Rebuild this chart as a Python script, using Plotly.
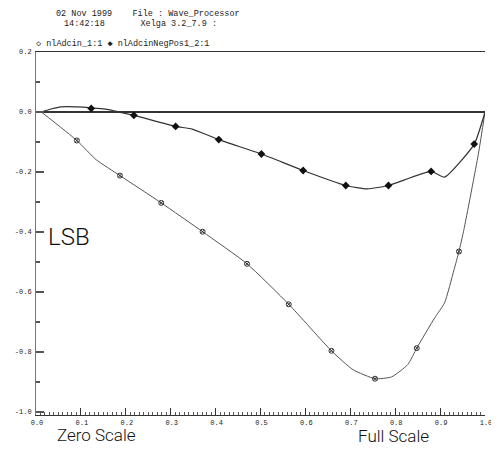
import plotly.graph_objects as go

# ---- data ----
# nlAdcin_1:1 (lower curve) – line path
adc_x = [0.012, 0.091, 0.134, 0.187, 0.279, 0.371, 0.470, 0.563, 0.658, 0.706, 0.755,
         0.792, 0.828, 0.848, 0.888, 0.910, 0.931, 0.942, 0.953, 0.985, 1.000]
adc_y = [0.000, -0.095, -0.159, -0.212, -0.303, -0.399, -0.506, -0.641, -0.796, -0.859, -0.889,
         -0.883, -0.842, -0.787, -0.686, -0.636, -0.526, -0.465, -0.392, -0.142, 0.000]
# nlAdcin_1:1 markers
adc_mx = [0.091, 0.187, 0.279, 0.371, 0.470, 0.563, 0.658, 0.755, 0.848, 0.942]
adc_my = [-0.095, -0.212, -0.303, -0.399, -0.506, -0.641, -0.796, -0.889, -0.787, -0.465]

# nlAdcinNegPos1_2:1 (upper curve) – line path
neg_x = [0.012, 0.034, 0.055, 0.123, 0.162, 0.187, 0.218, 0.311, 0.348, 0.407, 0.502,
         0.595, 0.690, 0.738, 0.785, 0.880, 0.910, 0.976, 1.000]
neg_y = [0.000, 0.010, 0.017, 0.014, 0.008, -0.001, -0.011, -0.048, -0.057, -0.092, -0.140,
         -0.195, -0.245, -0.256, -0.245, -0.198, -0.217, -0.107, 0.000]
# nlAdcinNegPos1_2:1 markers
neg_mx = [0.123, 0.218, 0.311, 0.407, 0.502, 0.595, 0.690, 0.785, 0.880, 0.976]
neg_my = [0.012, -0.011, -0.048, -0.092, -0.140, -0.195, -0.245, -0.245, -0.198, -0.107]

x_tickvals = [0.0, 0.1, 0.2, 0.3, 0.4, 0.5, 0.6, 0.7, 0.8, 0.9, 1.0]
x_ticktext = ["0.0", "0.1", "0.2", "0.3", "0.4", "0.5", "0.6", "0.7", "0.8", "0.9", "1.0"]
y_tickvals = [0.2, 0.0, -0.2, -0.4, -0.6, -0.8, -1.0]
y_ticktext = ["0.2", "0.0", "-0.2", "-0.4", "-0.6", "-0.8", "-1.0"]

header1 = "02 Nov 1999&nbsp;&nbsp;&nbsp;&nbsp;File : Wave_Processor"
header2 = "14:42:18&nbsp;&nbsp;&nbsp;&nbsp;&nbsp;&nbsp;&nbsp;Xelga 3.2_7.9 :"
legend_text = "\u25C7 nlAdcin_1:1 \u25C6 nlAdcinNegPos1_2:1"

MONO = "Liberation Mono, Courier New, monospace"
THIN = "Roboto, Lato, sans-serif"

# page has an 8px body margin: the figure is offset by (8, 8);
# keep total page height within the window to avoid a scrollbar
OFF = 8
W, H = 499 - OFF, 455 - 2 * OFF
L, R, T = 31 - OFF, 7, 52 - OFF
B = (OFF + H) - 415
pw, ph = W - L - R, H - T - B


def px(xp):
    return (xp - OFF - L) / pw


def py(yp):
    return (H - B - (yp - OFF)) / ph


fig = go.Figure()
fig.add_trace(go.Scatter(x=adc_x, y=adc_y, mode="lines",
                         line=dict(color="#555555", width=1, shape="spline", smoothing=0.5),
                         showlegend=False, hoverinfo="skip"))
fig.add_trace(go.Scatter(x=neg_x, y=neg_y, mode="lines",
                         line=dict(color="#333333", width=1.2, shape="spline", smoothing=0.5),
                         showlegend=False, hoverinfo="skip"))
fig.add_trace(go.Scatter(x=adc_mx, y=adc_my, mode="markers", name="nlAdcin_1:1",
                         marker=dict(symbol="circle-x-open", size=5, color="#333333", line=dict(width=1)),
                         showlegend=False))
fig.add_trace(go.Scatter(x=neg_mx, y=neg_my, mode="markers", name="nlAdcinNegPos1_2:1",
                         marker=dict(symbol="diamond", size=6, color="#111111"),
                         showlegend=False))

anns = [
    dict(text=header1, x=px(49), y=py(14), xanchor="left", yanchor="middle",
         font=dict(family=MONO, size=8.5, color="#222222")),
    dict(text=header2, x=px(58), y=py(24), xanchor="left", yanchor="middle",
         font=dict(family=MONO, size=8.5, color="#222222")),
    dict(text=legend_text, x=px(29), y=py(44), xanchor="left", yanchor="middle",
         font=dict(family=MONO, size=8.5, color="#222222")),
    dict(text="LSB", x=px(65), y=py(237), xanchor="center", yanchor="middle",
         font=dict(family=THIN, size=24, color="#111111", weight=300)),
    dict(text="Zero Scale", x=px(93), y=py(435), xanchor="center", yanchor="middle",
         font=dict(family=THIN, size=17, color="#111111", weight=300)),
    dict(text="Full Scale", x=px(398), y=py(436), xanchor="center", yanchor="middle",
         font=dict(family=THIN, size=17, color="#111111", weight=300)),
]
for a in anns:
    a.update(xref="paper", yref="paper", showarrow=False)

fig.update_layout(
    width=W, height=H,
    margin=dict(l=L, r=R, t=T, b=B, pad=0),
    paper_bgcolor="white", plot_bgcolor="white",
    xaxis=dict(range=[0, 1], showgrid=False, zeroline=False,
               showline=True, linecolor="#333333", linewidth=1.2, mirror=True,
               ticks="inside", ticklen=7, tickcolor="#333333", tickwidth=1,
               tickvals=x_tickvals, ticktext=x_ticktext,
               minor=dict(dtick=0.01, ticks="inside", ticklen=3, tickcolor="#555555", showgrid=False),
               tickfont=dict(family=MONO, size=7, color="#222222"),
               ticklabelshift=1, ticklabelstandoff=0, ticklabeloverflow="allow"),
    yaxis=dict(range=[-1.01, 0.2], showgrid=False,
               zeroline=True, zerolinecolor="#333333", zerolinewidth=2,
               showline=True, linecolor="#777777", linewidth=1, mirror=False,
               ticks="inside", ticklen=8, tickcolor="#555555", tickwidth=1.5,
               tickvals=y_tickvals, ticktext=y_ticktext,
               minor=dict(dtick=0.1, tick0=0, ticks="inside", ticklen=4, tickcolor="#555555", showgrid=False),
               tickfont=dict(family=MONO, size=7, color="#222222"),
               ticklabelstandoff=2),
    annotations=anns,
)

fig.write_html("out.html")
